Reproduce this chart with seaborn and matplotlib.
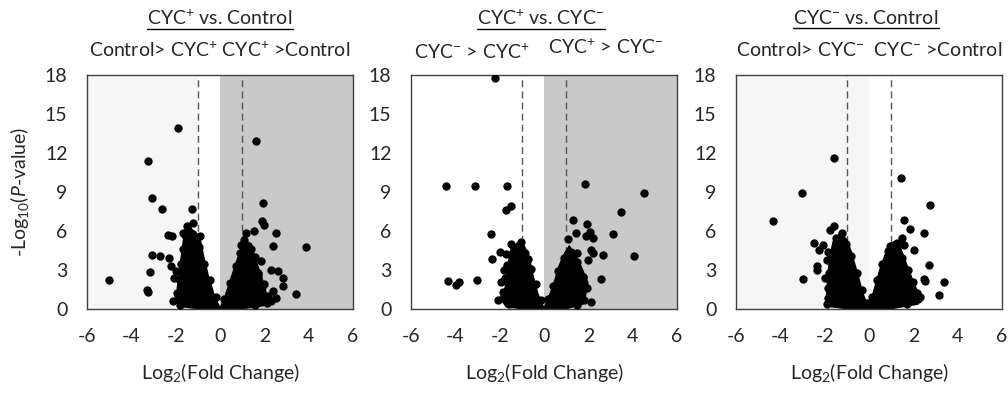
import matplotlib
matplotlib.use("Agg")
import matplotlib.pyplot as plt
import seaborn as sns
from matplotlib.lines import Line2D

# --- data ---
titles = [r"CYC$^{+}$ vs. Control", r"CYC$^{+}$ vs. CYC$^{-}$", r"CYC$^{-}$ vs. Control"]
x_ticks = [-6, -4, -2, 0, 2, 4, 6]
y_ticks = [0, 3, 6, 9, 12, 15, 18]

# individual genes (outliers + cluster edge)
p1_x = [-5.0, -3.25, -1.9, -3.05, -2.63, -1.28, -1.21, -3.15, -3.3, -3.25, -3.07, -2.7, -2.3,
        -2.33, -2.18, -2.2, -2.06, -2.1, -1.88, -1.66, -1.58, -1.43, -0.91, -1.75, -1.9, -1.5,
        1.63, 1.93, 1.88, 2.0, 2.52, 2.37, 3.87, 3.42, 1.18, 1.55, 0.96, 1.1, 1.85, 2.3, 2.6,
        2.82, 2.82, 2.52, 2.15, 2.0, 1.7, 2.1, 1.4, 1.6,
        -1.8, -1.95, -1.85, -1.75, -1.65, -1.5, -1.2, -0.95, -0.7, -0.45, -0.2,
        0.2, 0.45, 0.7, 0.9, 1.3, 1.5, 1.7, 1.9, 2.05, 1.6, 2.3, 2.4, -2.0, -1.6]
p1_y = [2.25, 11.4, 13.9, 8.55, 7.72, 7.72, 6.6, 2.85, 1.49, 1.3, 4.18, 4.05, 3.9,
        5.7, 5.6, 3.3, 2.4, 0.6, 1.1, 5.85, 5.7, 6.1, 5.6, 2.0, 0.8, 6.4,
        12.9, 8.15, 6.8, 6.5, 5.85, 4.82, 4.74, 1.15, 5.85, 5.97, 4.95, 5.3, 3.67, 3.0, 2.9,
        2.4, 1.75, 0.85, 1.0, 1.9, 2.6, 0.5, 4.6, 4.0,
        0.3, 1.2, 2.3, 3.5, 4.6, 5.3, 5.5, 4.8, 3.5, 2.2, 0.9,
        0.8, 2.0, 3.3, 4.3, 4.8, 3.7, 2.8, 1.7, 0.7, 0.3, 0.6, 1.4, 2.9, 2.6]

p2_x = [-2.2, -4.42, -3.13, -1.65, -1.71, -1.49, -2.38, -2.35, -2.0, -4.33, -3.97, -3.82,
        -3.02, -2.06, -1.86, -1.59, -1.94, -1.49, -1.04, -0.74, -1.8, -1.7,
        1.85, 4.53, 3.46, 3.1, 4.08, 2.57, 2.65, 1.32, 1.92, 1.44, 1.9, 2.09, 2.2, 1.07,
        2.12, 2.2, 2.12, 1.47, 1.74, 1.97, 1.6, 1.3,
        -1.85, -1.75, -1.65, -1.4, -1.15, -0.85, -0.6, -0.35, -0.15,
        0.2, 0.4, 0.65, 0.9, 1.2, 1.5, 1.75, 1.95, 1.8, 1.5]
p2_y = [17.8, 9.5, 9.5, 9.5, 7.58, 7.96, 5.76, 3.87, 4.35, 2.12, 1.82, 2.07,
        2.25, 0.72, 0.85, 0.38, 2.05, 5.02, 5.12, 3.87, 3.0, 4.2,
        9.63, 8.96, 7.45, 5.76, 4.05, 2.33, 4.17, 6.86, 6.53, 5.84, 5.58, 5.89, 5.5, 5.38,
        4.56, 4.3, 0.51, 4.3, 2.5, 3.8, 1.5, 3.2,
        1.3, 2.4, 3.4, 4.4, 4.9, 4.3, 3.1, 1.9, 0.7,
        0.8, 1.8, 2.9, 3.9, 4.4, 3.6, 2.5, 1.6, 0.7, 0.3]

p3_x = [-4.31, -3.02, -3.0, -1.6, -2.48, -2.09, -2.24, -2.33, -2.36, -1.9, -1.98, -1.83,
        -1.83, -1.75, -1.6, -1.23, -1.3, -1.5,
        1.44, 2.73, 1.56, 1.83, 2.46, 2.03, 1.48, 1.59, 2.69, 2.46, 2.51, 3.4, 3.16, 2.16,
        1.1, 1.26, 0.96, 1.71, 1.9, 2.3, 1.3,
        -1.9, -1.85, -1.8, -1.7, -1.45, -1.05, -0.8, -0.55, -0.3, -0.1,
        0.15, 0.35, 0.6, 0.85, 1.25, 1.5, 1.75, 2.0, 2.2, 1.7]
p3_y = [6.76, 8.91, 2.3, 11.65, 5.07, 4.94, 4.56, 3.28, 2.97, 3.74, 2.38, 0.85,
        4.35, 6.1, 6.35, 5.84, 5.3, 5.5,
        10.06, 8.01, 6.86, 6.14, 5.84, 4.56, 5.48, 4.94, 3.35, 2.3, 2.17, 2.05, 1.1, 1.23,
        4.81, 5.07, 4.81, 2.5, 1.2, 0.9, 3.5,
        0.4, 1.6, 2.8, 4.0, 5.0, 5.0, 4.1, 2.8, 1.5, 0.5,
        0.9, 2.2, 3.5, 4.5, 4.6, 3.9, 3.0, 2.1, 0.8, 0.4]

# outline of the dense gene clouds (left arm, right arm)
p1_left_x = [0.0, -0.3, -0.55, -0.75, -0.9, -1.1, -1.4, -1.6, -1.7, -1.8, -1.9, -1.95, -1.7, -1.0]
p1_left_y = [0.0, 1.2, 2.6, 4.0, 5.3, 5.9, 6.2, 5.7, 4.5, 3.0, 1.8, 0.6, 0.2, 0.05]
p1_right_x = [0.0, 0.25, 0.5, 0.75, 0.95, 1.15, 1.4, 1.55, 1.75, 1.95, 2.1, 2.0, 1.0]
p1_right_y = [0.0, 1.0, 2.3, 3.6, 4.6, 5.2, 5.0, 4.0, 3.0, 2.0, 1.0, 0.3, 0.05]

p2_left_x = [0.0, -0.3, -0.5, -0.66, -0.89, -1.1, -1.45, -1.6, -1.7, -1.86, -1.7, -1.0]
p2_left_y = [0.0, 1.2, 2.5, 3.8, 4.8, 5.1, 4.8, 3.5, 2.0, 0.6, 0.2, 0.05]
p2_right_x = [0.0, 0.3, 0.5, 0.69, 0.95, 1.14, 1.35, 1.6, 1.8, 1.97, 1.85, 1.74, 1.0]
p2_right_y = [0.0, 1.2, 2.2, 3.3, 4.3, 4.8, 4.3, 3.5, 2.7, 2.0, 1.0, 0.4, 0.05]

p3_left_x = [0.0, -0.3, -0.45, -0.63, -0.8, -1.0, -1.3, -1.6, -1.75, -1.85, -1.9, -1.7, -1.0]
p3_left_y = [0.0, 1.2, 2.2, 3.3, 4.3, 5.3, 5.8, 5.2, 4.0, 2.5, 0.6, 0.2, 0.05]
p3_right_x = [0.0, 0.25, 0.5, 0.75, 0.96, 1.2, 1.45, 1.6, 1.78, 2.0, 2.3, 2.2, 1.0]
p3_right_y = [0.0, 1.5, 3.0, 4.2, 5.0, 5.2, 4.5, 3.8, 3.0, 2.0, 0.9, 0.4, 0.05]

points = [(p1_x, p1_y), (p2_x, p2_y), (p3_x, p3_y)]
clouds = [[(p1_left_x, p1_left_y), (p1_right_x, p1_right_y)],
          [(p2_left_x, p2_left_y), (p2_right_x, p2_right_y)],
          [(p3_left_x, p3_left_y), (p3_right_x, p3_right_y)]]

# shading per panel: (x0, x1, colour)
light, dark = "#f6f6f6", "#c9c9c9"
shades = [[(-6, -1, light), (0, 6, dark)],
          [(0, 6, dark)],
          [(-6, 0, light)]]

# --- style ---
sns.set_style("white")
plt.rcParams["font.family"] = ["Lato", "DejaVu Sans"]
plt.rcParams["mathtext.fontset"] = "custom"
plt.rcParams["mathtext.rm"] = "Lato"
plt.rcParams["mathtext.it"] = "Lato:italic"
plt.rcParams["mathtext.bf"] = "Lato:bold"

FS = 14
W, H = 1008, 396
fig = plt.figure(figsize=(W / 100, H / 100), dpi=100)
lefts = [87, 411, 736]
axes = [fig.add_axes([l / W, 1 - 309 / H, 266 / W, 234 / H]) for l in lefts]

for i, ax in enumerate(axes):
    for x0, x1, c in shades[i]:
        ax.axvspan(x0, x1, color=c, lw=0, zorder=0)
    for xv in (-1, 1):
        ax.axvline(xv, color="#555555", lw=1, ls=(0, (5, 3)), zorder=1)
    for cx, cy in clouds[i]:
        ax.fill(cx, cy, color="black", lw=1.5, ec="black", zorder=2)
    px, py = points[i]
    sns.scatterplot(x=px, y=py, ax=ax, color="black", s=36, linewidth=0, zorder=3)

    ax.set_xlim(-6, 6)
    ax.set_ylim(0, 18)
    ax.set_xticks(x_ticks)
    ax.set_xticklabels([str(t) for t in x_ticks])
    ax.set_yticks(y_ticks)
    ax.tick_params(axis="y", direction="out", length=7, width=1, pad=7, labelsize=FS, color="#404040")
    ax.tick_params(axis="x", direction="out", length=5, width=1, pad=9, labelsize=FS, color="#404040")
    for s in ax.spines.values():
        s.set_color("#404040")
        s.set_linewidth(1)
    ax.set_xlabel(r"Log$_{2}$(Fold Change)", fontsize=FS, labelpad=11)

axes[0].set_ylabel(r"-Log$_{10}$($\it{P}$-value)", fontsize=FS, labelpad=10)

# titles and direction labels
title_cx = [220, 541, 866]
title_objs = []
for cx, t in zip(title_cx, titles):
    title_objs.append(fig.text(cx / W, 1 - 18 / H, t, ha="center", va="center", fontsize=FS))

fig.text(220 / W, 1 - 50 / H, r"Control> CYC$^{+}$ CYC$^{+}$ >Control", ha="center", va="center", fontsize=FS)
fig.text(472 / W, 1 - 52 / H, r"CYC$^{-}$ > CYC$^{+}$", ha="center", va="center", fontsize=FS)
fig.text(606 / W, 1 - 47 / H, r"CYC$^{+}$ > CYC$^{-}$", ha="center", va="center", fontsize=FS)
fig.text(869 / W, 1 - 50 / H, r"Control> CYC$^{-}$  CYC$^{-}$ >Control", ha="center", va="center", fontsize=FS)

# underline the titles
fig.canvas.draw()
rend = fig.canvas.get_renderer()
inv = fig.transFigure.inverted()
for t in title_objs:
    bb = t.get_window_extent(rend)
    (x0, y0), (x1, _) = inv.transform([(bb.x0, bb.y0 - 1), (bb.x1, bb.y0)])
    fig.add_artist(Line2D([x0, x1], [y0, y0], transform=fig.transFigure, color="black", lw=1))

fig.savefig("out.png", dpi=100)
